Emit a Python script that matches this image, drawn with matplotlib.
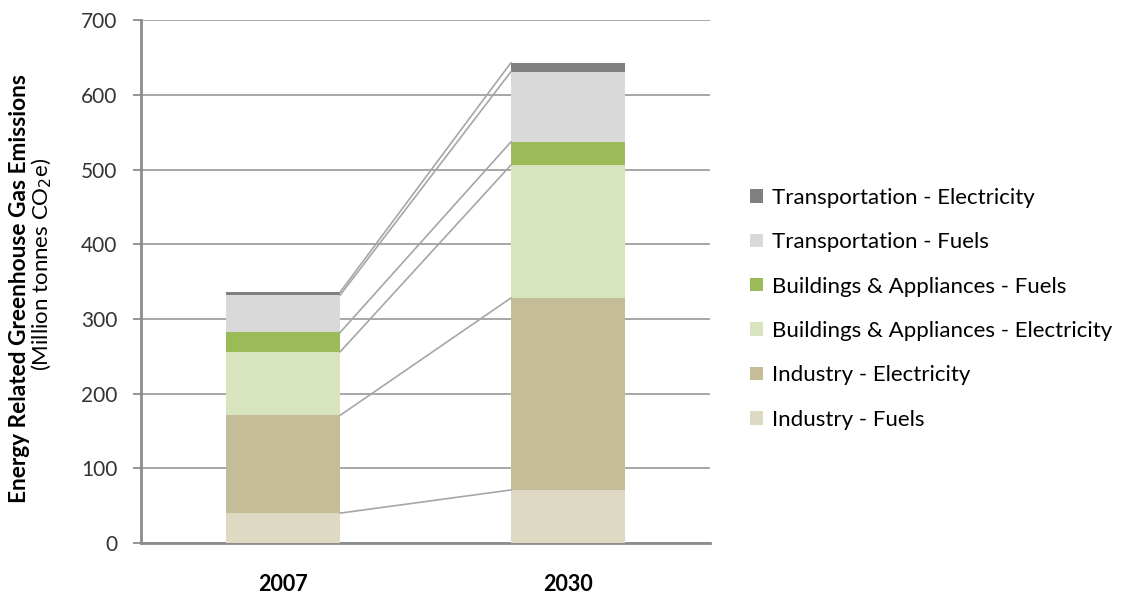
import matplotlib
matplotlib.use("Agg")
import matplotlib.pyplot as plt
from matplotlib.patches import Patch
import numpy as np

plt.rcParams['font.family'] = ['Lato', 'DejaVu Sans']

years = ["2007", "2030"]
series_names = [
    "Industry - Fuels",
    "Industry - Electricity",
    "Buildings & Appliances - Electricity",
    "Buildings & Appliances - Fuels",
    "Transportation - Fuels",
    "Transportation - Electricity",
]
industry_fuels = [40, 71]
industry_electricity = [131, 257]
buildings_electricity = [85, 178]
buildings_fuels = [26, 31]
transport_fuels = [50, 94]
transport_electricity = [4, 12]

colors = ["#ddd9c3", "#c4bd97", "#d7e4bd", "#9bbb59", "#d9d9d9", "#808080"]

series = [industry_fuels, industry_electricity, buildings_electricity,
          buildings_fuels, transport_fuels, transport_electricity]

fig = plt.figure(figsize=(11.22, 5.95), dpi=100)
ax = fig.add_axes([0.1257, 0.0874, 0.5071, 0.8786])

x = np.arange(len(years))
width = 0.4
bottom = np.zeros(len(years))
tops = []
for vals, col in zip(series, colors):
    ax.bar(x, vals, width, bottom=bottom, color=col, zorder=3, linewidth=0)
    bottom = bottom + np.array(vals)
    tops.append(bottom.copy())

# connector lines between the cumulative tops of each segment
for t in tops:
    ax.plot([x[0] + width / 2, x[1] - width / 2], [t[0], t[1]],
            color="#a6a6a6", lw=1.2, zorder=4)

ax.set_xlim(-0.5, 1.5)
ax.set_ylim(0, 700)
ax.set_yticks(np.arange(0, 701, 100))
ax.yaxis.grid(True, color="#a0a0a0", lw=1.3, zorder=0)
ax.set_axisbelow(True)
for s in ["top", "right"]:
    ax.spines[s].set_visible(False)
for s in ["left", "bottom"]:
    ax.spines[s].set_color("#8c8c8c")
    ax.spines[s].set_linewidth(2)
ax.tick_params(axis="y", length=6, width=1.3, color="#8c8c8c", labelsize=15,
               labelcolor="#333333", pad=11)
ax.tick_params(axis="x", length=0, labelsize=15.5, pad=22)
ax.set_xticks(x)
ax.set_xticklabels(years, fontweight="bold")

fig.text(0.017, 0.515, "Energy Related Greenhouse Gas Emissions",
         rotation=90, va="center", ha="center", fontsize=16.3, fontweight="bold")
fig.text(0.0375, 0.555, "(Million tonnes CO$_2$e)",
         rotation=90, va="center", ha="center", fontsize=16)

handles = [Patch(facecolor=c, edgecolor="none") for c in colors][::-1]
labels = series_names[::-1]
fig.legend(handles, labels, loc="center left", bbox_to_anchor=(0.651, 0.481),
           frameon=False, fontsize=16, handlelength=0.55, handleheight=0.55,
           handletextpad=0.4, labelspacing=1.1)

fig.savefig("out.png", dpi=100)
